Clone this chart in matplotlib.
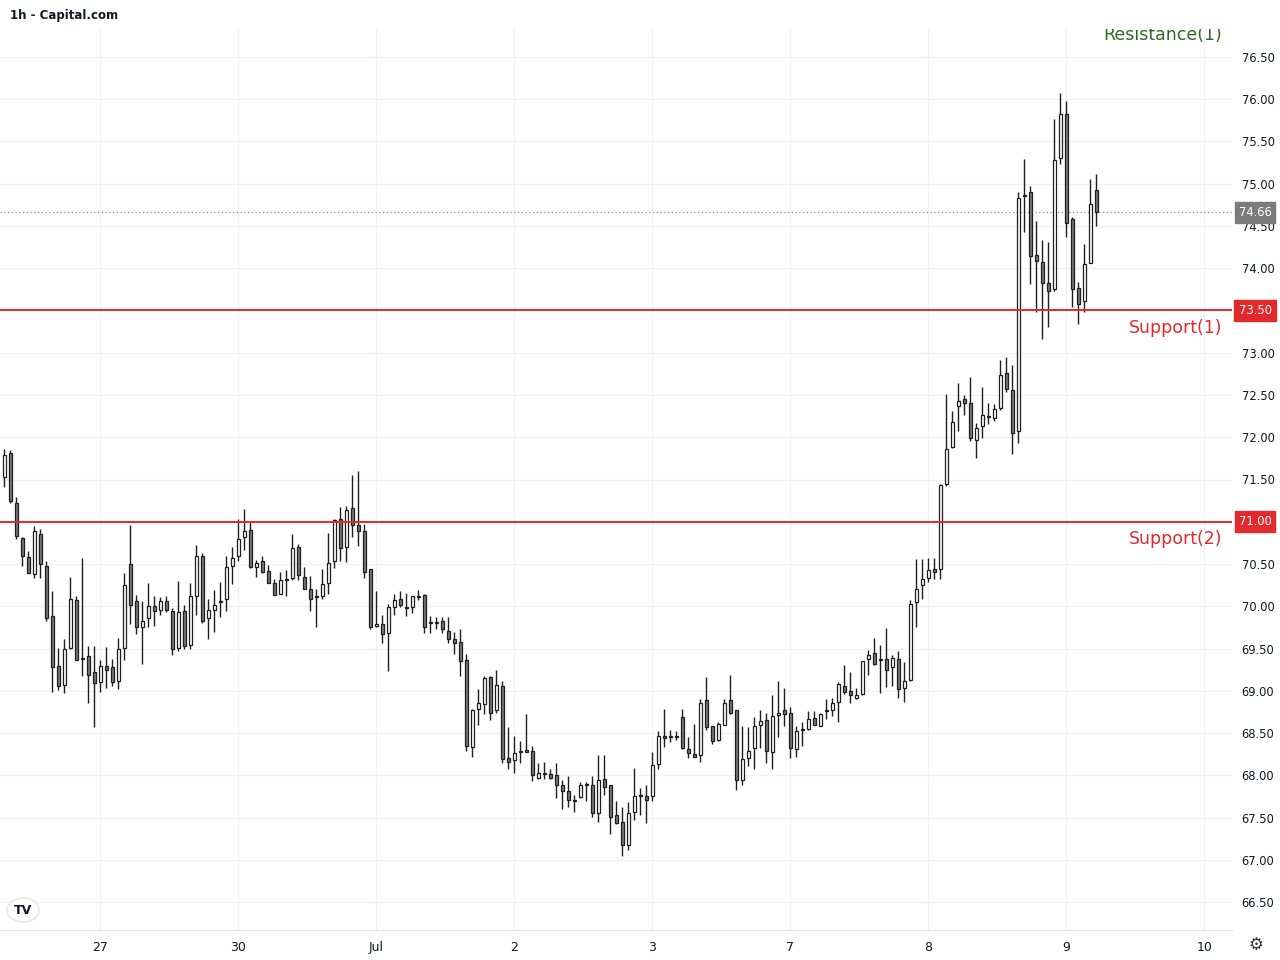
import matplotlib
matplotlib.use("Agg")
import matplotlib.pyplot as plt
import matplotlib.transforms as mtransforms
from matplotlib.patches import Rectangle, Circle
import numpy as np

# hourly candles (open, high, low, close)
opens = [71.53, 71.81, 71.22, 70.81, 70.58, 70.38, 70.85, 70.48, 69.88, 69.29,
         69.07, 69.51, 70.07, 69.38, 69.41, 69.22, 69.10, 69.29, 69.28, 69.12,
         69.51, 70.50, 70.06, 69.75, 69.86, 70.00, 69.95, 70.06, 69.94, 69.51,
         69.94, 69.54, 70.12, 70.60, 69.86, 69.96, 70.05, 70.09, 70.48, 70.59,
         70.82, 70.90, 70.47, 70.53, 70.42, 70.27, 70.15, 70.31, 70.33, 70.70,
         70.35, 70.21, 70.11, 70.12, 70.27, 70.53, 71.03, 70.70, 71.16, 70.96,
         70.89, 70.44, 69.77, 69.79, 69.68, 69.99, 70.08, 69.98, 69.99, 70.11,
         70.13, 69.80, 69.80, 69.82, 69.71, 69.61, 69.58, 69.36, 68.34, 68.79,
         68.84, 69.16, 68.77, 69.06, 68.20, 68.18, 68.28, 68.30, 68.29, 67.97,
         68.02, 68.01, 68.00, 67.89, 67.81, 67.70, 67.74, 67.89, 67.89, 67.55,
         67.95, 67.88, 67.53, 67.45, 67.17, 67.56, 67.76, 67.76, 67.75, 68.13,
         68.47, 68.45, 68.47, 68.69, 68.31, 68.25, 68.24, 68.89, 68.58, 68.42,
         68.60, 68.89, 68.77, 67.94, 68.20, 68.32, 68.59, 68.65, 68.28, 68.71,
         68.77, 68.74, 68.31, 68.54, 68.55, 68.68, 68.58, 68.76, 68.77, 68.87,
         69.06, 69.00, 68.91, 68.96, 69.37, 69.45, 69.36, 69.37, 69.28, 69.38,
         69.03, 69.13, 70.05, 70.25, 70.34, 70.44, 70.44, 71.45, 71.89, 72.37,
         72.45, 72.41, 71.97, 72.13, 72.24, 72.23, 72.35, 72.76, 72.56, 72.07,
         74.85, 74.90, 74.16, 74.07, 73.83, 73.76, 75.30, 75.83, 74.58, 73.77,
         73.61, 74.06, 74.93]
highs = [71.86, 71.85, 71.29, 70.82, 70.65, 70.95, 70.91, 70.53, 70.18, 69.51,
         69.61, 70.35, 70.12, 70.57, 69.53, 69.53, 69.36, 69.52, 69.38, 69.62,
         70.39, 70.96, 70.13, 70.06, 70.28, 70.12, 70.11, 70.12, 69.98, 70.30,
         70.01, 70.27, 70.73, 70.63, 70.08, 70.19, 70.29, 70.59, 70.70, 71.03,
         71.15, 71.00, 70.55, 70.60, 70.49, 70.32, 70.40, 70.43, 70.86, 70.74,
         70.46, 70.36, 70.21, 70.44, 70.87, 71.03, 71.17, 71.19, 71.55, 71.60,
         70.97, 70.44, 70.18, 69.90, 70.03, 70.15, 70.18, 70.16, 70.12, 70.19,
         70.15, 69.88, 69.87, 69.87, 69.87, 69.69, 69.73, 69.44, 68.79, 69.02,
         69.17, 69.18, 69.25, 69.11, 68.57, 68.46, 68.41, 68.73, 68.35, 68.14,
         68.16, 68.07, 68.14, 67.94, 67.99, 67.77, 67.92, 67.92, 67.99, 68.24,
         68.24, 67.88, 67.69, 67.62, 67.68, 68.09, 67.85, 67.89, 68.27, 68.52,
         68.79, 68.54, 68.52, 68.78, 68.45, 68.61, 68.90, 69.16, 68.58, 68.63,
         68.90, 69.19, 68.77, 68.58, 68.57, 68.69, 68.77, 68.74, 68.95, 69.12,
         69.03, 68.81, 68.58, 68.63, 68.76, 68.76, 68.74, 68.90, 68.92, 69.10,
         69.31, 69.22, 69.03, 69.35, 69.48, 69.62, 69.54, 69.74, 69.42, 69.47,
         69.34, 70.07, 70.56, 70.56, 70.57, 70.57, 71.45, 72.51, 72.31, 72.64,
         72.50, 72.71, 72.17, 72.60, 72.40, 72.39, 72.92, 72.95, 72.85, 74.90,
         75.29, 74.97, 74.56, 74.34, 74.31, 75.77, 76.07, 75.98, 74.61, 73.84,
         74.29, 75.06, 75.12]
lows = [71.41, 71.22, 70.79, 70.48, 70.39, 70.33, 70.34, 69.82, 68.98, 69.01,
        68.97, 69.49, 69.36, 69.17, 68.85, 68.57, 68.98, 69.03, 69.06, 69.02,
        69.36, 69.79, 69.67, 69.32, 69.75, 69.77, 69.90, 69.93, 69.42, 69.47,
        69.49, 69.49, 69.90, 69.80, 69.61, 69.70, 69.87, 69.94, 70.26, 70.54,
        70.66, 70.45, 70.35, 70.39, 70.27, 70.13, 70.15, 70.12, 70.31, 70.31,
        70.20, 69.94, 69.75, 70.09, 70.14, 70.45, 70.53, 70.52, 70.82, 70.71,
        70.33, 69.73, 69.75, 69.57, 69.23, 69.90, 69.99, 69.88, 69.92, 70.07,
        69.68, 69.68, 69.73, 69.68, 69.57, 69.44, 69.17, 68.29, 68.22, 68.60,
        68.72, 68.65, 68.74, 68.15, 68.07, 68.03, 68.14, 68.27, 67.93, 67.95,
        67.95, 67.95, 67.73, 67.60, 67.63, 67.56, 67.73, 67.70, 67.51, 67.45,
        67.77, 67.31, 67.42, 67.05, 67.11, 67.47, 67.53, 67.43, 67.69, 68.08,
        68.34, 68.39, 68.42, 68.31, 68.21, 68.22, 68.16, 68.53, 68.37, 68.41,
        68.59, 68.72, 67.82, 67.89, 68.11, 68.08, 68.32, 68.14, 68.07, 68.45,
        68.58, 68.21, 68.22, 68.35, 68.53, 68.59, 68.58, 68.66, 68.70, 68.63,
        68.96, 68.85, 68.90, 68.95, 69.19, 69.30, 68.97, 69.05, 69.06, 68.92,
        68.87, 69.12, 69.76, 70.08, 70.29, 70.32, 70.32, 71.42, 71.87, 72.07,
        72.26, 71.96, 71.75, 71.99, 72.16, 72.19, 72.32, 72.54, 71.80, 71.93,
        74.43, 73.81, 73.48, 73.16, 73.31, 73.73, 75.23, 74.37, 73.54, 73.34,
        73.48, 74.06, 74.50]
closes = [71.79, 71.24, 70.83, 70.59, 70.39, 70.89, 70.50, 69.86, 69.28, 69.06,
          69.50, 70.08, 69.36, 69.38, 69.19, 69.09, 69.29, 69.25, 69.10, 69.49,
          70.25, 70.02, 69.76, 69.83, 70.00, 69.94, 70.06, 69.95, 69.49, 69.93,
          69.53, 70.12, 70.59, 69.83, 69.95, 70.01, 70.05, 70.47, 70.57, 70.79,
          70.89, 70.46, 70.51, 70.40, 70.28, 70.13, 70.31, 70.31, 70.69, 70.37,
          70.20, 70.09, 70.11, 70.26, 70.51, 71.02, 70.69, 71.14, 70.96, 70.89,
          70.41, 69.75, 69.79, 69.67, 69.99, 70.07, 70.01, 69.98, 70.12, 70.11,
          69.76, 69.80, 69.80, 69.73, 69.61, 69.57, 69.35, 68.35, 68.77, 68.85,
          69.15, 68.74, 69.07, 68.19, 68.16, 68.26, 68.28, 68.27, 68.00, 68.03,
          68.02, 67.97, 67.88, 67.81, 67.71, 67.70, 67.88, 67.89, 67.55, 67.94,
          67.86, 67.51, 67.43, 67.18, 67.55, 67.75, 67.76, 67.71, 68.12, 68.46,
          68.44, 68.45, 68.45, 68.32, 68.26, 68.22, 68.85, 68.57, 68.41, 68.61,
          68.85, 68.74, 67.94, 68.19, 68.29, 68.58, 68.64, 68.29, 68.70, 68.74,
          68.72, 68.32, 68.52, 68.54, 68.67, 68.60, 68.73, 68.76, 68.86, 69.08,
          68.98, 68.95, 68.95, 69.35, 69.42, 69.32, 69.36, 69.25, 69.39, 69.02,
          69.12, 70.03, 70.21, 70.32, 70.43, 70.40, 71.43, 71.86, 72.18, 72.43,
          72.40, 71.99, 72.11, 72.26, 72.24, 72.34, 72.74, 72.57, 72.05, 74.83,
          74.87, 74.15, 74.08, 73.82, 73.73, 75.28, 75.82, 74.54, 73.76, 73.58,
          74.05, 74.76, 74.66]

day_pos = [16, 39, 62, 85, 108, 131, 154, 177, 200]
day_labels = ["27", "30", "Jul", "2", "3", "7", "8", "9", "10"]
price_ticks = np.arange(66.5, 76.51, 0.5)

supports = [73.50, 71.00]
support_names = ["Support(1)", "Support(2)"]
resistance = 77.00
last_price = 74.66

RED = "#e2292b"
GRID = "#f0f1f4"

fig = plt.figure(figsize=(12.8, 9.6), dpi=100)
ax = fig.add_axes([0, 30 / 960, 1232 / 1280, 901 / 960])
ax.set_xlim(-0.717, 204.6)
ax.set_ylim(66.169, 76.831)

for p in price_ticks:
    ax.axhline(p, color=GRID, lw=0.9, zorder=0)
for d in day_pos:
    ax.axvline(d, color=GRID, lw=0.9, zorder=0)

w = 0.56
for i in range(len(opens)):
    o, h, l, c = opens[i], highs[i], lows[i], closes[i]
    ax.vlines(i, l, h, color="#1e1e1e", lw=1.0, zorder=2)
    up = c >= o
    ax.add_patch(Rectangle((i - w / 2, min(o, c)), w, max(abs(c - o), 0.012),
                           facecolor="#ffffff" if up else "#787878",
                           edgecolor="#1e1e1e", lw=0.9, zorder=3))

for s, name in zip(supports, support_names):
    ax.axhline(s, color=RED, lw=1.4, zorder=4)
    ax.text(203.0, s - 0.21, name, color=RED, fontsize=12.5,
            ha="right", va="center", zorder=5)
ax.axhline(resistance, color="#2e6b22", lw=1.4, zorder=4)
res_txt = ax.text(203.0, resistance - 0.24, "Resistance(1)", color="#2e6b22",
                  fontsize=12.5, ha="right", va="center", zorder=5)
res_txt.set_clip_box(ax.bbox)
res_txt.set_clip_on(True)

ax.axhline(last_price, color="#8a8a8a", lw=0.9, ls=(0, (1, 2)), zorder=1)

# axes / ticks
for side in ["top", "left", "right"]:
    ax.spines[side].set_visible(False)
ax.spines["bottom"].set_color("#e0e3eb")
ax.set_xticks(day_pos)
ax.set_xticklabels(day_labels)
ax.tick_params(axis="x", length=0, pad=8, labelsize=9, labelcolor="#131722")
ax.yaxis.tick_right()
ax.set_yticks(price_ticks)
ax.set_yticklabels(["%.2f" % p if p not in supports else "" for p in price_ticks])
ax.tick_params(axis="y", length=0, pad=7, labelsize=8.3, labelcolor="#131722")

trans = mtransforms.blended_transform_factory(fig.transFigure, ax.transData)
for s in supports:
    ax.text(1255 / 1280, s, "%.2f" % s, transform=trans, color="white",
            fontsize=8.3, ha="center", va="center", clip_on=False, zorder=10,
            bbox=dict(boxstyle="square,pad=0.35", fc=RED, ec=RED))
ax.text(1255 / 1280, last_price, "%.2f" % last_price, transform=trans,
        color="white", fontsize=8.3, ha="center", va="center", clip_on=False,
        zorder=10, bbox=dict(boxstyle="square,pad=0.35", fc="#7b7b7b", ec="#7b7b7b"))

fig.text(10 / 1280, 1 - 15 / 960, "1h - Capital.com", fontsize=8.5,
         fontweight="bold", color="#131722", ha="left", va="center")

# logo and settings icon
fig.patches.append(Circle((23 / 1280, 1 - 910 / 960), 16 / 1280,
                          transform=fig.transFigure, fc="white",
                          ec="#e6e6e6", lw=1.2))
fig.text(23 / 1280, 1 - 910 / 960, "TV", fontsize=9, fontweight="bold",
         color="#131722", ha="center", va="center")
fig.text(1256 / 1280, 1 - 945 / 960, "\u2699", fontsize=12, color="#333333",
         ha="center", va="center")

fig.savefig("out.png", dpi=100)
